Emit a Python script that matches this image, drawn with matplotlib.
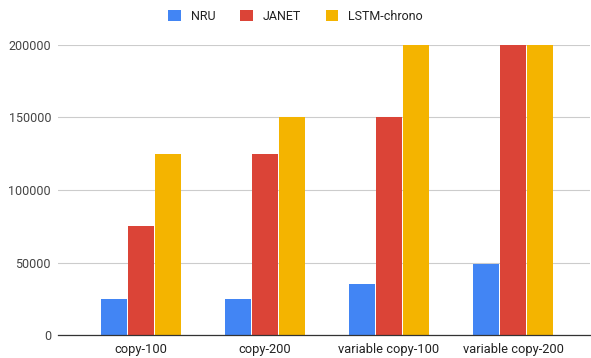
import matplotlib.pyplot as plt
import numpy as np

plt.rcParams['font.family'] = ['Roboto', 'DejaVu Sans']

tasks = ['copy-100', 'copy-200', 'variable copy-100', 'variable copy-200']
nru = [25000, 25000, 35000, 49000]
janet = [75000, 125000, 150000, 200000]
lstm_chrono = [125000, 150000, 200000, 200000]

series = [('NRU', nru, '#4285F4'),
          ('JANET', janet, '#DB4437'),
          ('LSTM-chrono', lstm_chrono, '#F4B400')]

W, H = 591, 358
fig = plt.figure(figsize=(W / 100, H / 100), dpi=100)
ax = fig.add_axes([58 / W, 1 - 335 / H, (590 - 58) / W, (335 - 45) / H])

x = np.arange(len(tasks))
bw = 0.21
for i, (name, vals, col) in enumerate(series):
    ax.bar(x + (i - 1) * (bw + 0.008), vals, bw, color=col, label=name, zorder=3)

ax.set_xlim(-0.669, 3.62)
ax.set_ylim(0, 200000)
ax.set_yticks([0, 50000, 100000, 150000, 200000])
ax.set_yticklabels(['0', '50000', '100000', '150000', '200000'])
ax.set_xticks(x)
ax.set_xticklabels(tasks)
ax.tick_params(length=0, labelsize=9, colors='#444444', pad=5)
ax.tick_params(axis='x', labelsize=9.3, pad=6, colors='#222222')
ax.grid(axis='y', color='#cccccc', linewidth=0.8, zorder=0)
for s in ['top', 'right', 'left']:
    ax.spines[s].set_visible(False)
ax.spines['bottom'].set_color('#333333')
ax.spines['bottom'].set_linewidth(0.9)
ax.spines['bottom'].set_zorder(4)

fig.legend(loc='center', bbox_to_anchor=(0.5, 1 - 16 / H), ncol=3, frameon=False,
           fontsize=9, handlelength=1.0, handleheight=1.0, columnspacing=2.0,
           handletextpad=0.8, labelcolor='#222222')

fig.savefig('out.png', dpi=100)
